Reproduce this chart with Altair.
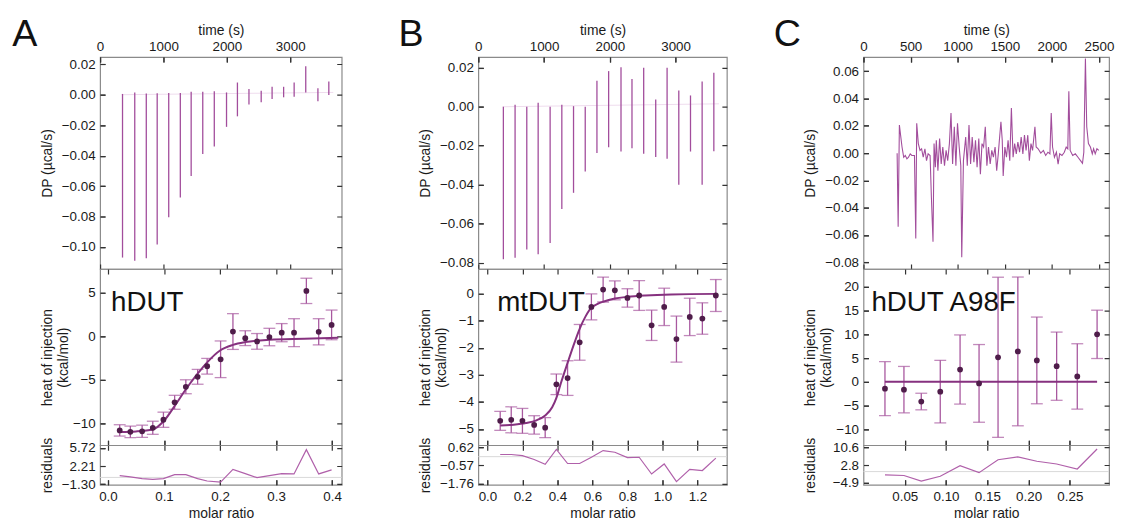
import altair as alt
import pandas as pd

FONT = "Liberation Sans"
PURPLE = "#a24d9c"
DOT = "#4f1d4a"
FIT = "#86317f"
ERR = "#a8589f"
RES = "#b060aa"
TICK = "#333333"

# ---------------- Panel A : hDUT ----------------
A_inj_t = [354, 547, 729, 901, 1083, 1266, 1437, 1620, 1802, 1995, 2167, 2349, 2542, 2714, 2896, 3062, 3245, 3437, 3609]
A_dp_min = [-0.1069, -0.109, -0.1073, -0.0983, -0.0804, -0.0675, -0.0534, -0.039, -0.034, -0.0211, -0.0142,
            -0.0065, -0.005, -0.0028, -0.0017, -0.0013, 0.0015, -0.0043, -0.0002]
A_dp_max = [0.0005, 0.0015, 0.0008, 0.001, 0.0012, 0.0012, 0.002, 0.002, 0.0022, 0.0015, 0.008,
            0.0037, 0.0026, 0.0052, 0.0052, 0.008, 0.0187, 0.0043, 0.0086]
A_base_t = [340, 3680]
A_base_dp = [0.0, 0.0015]
A_ratio = [0.021, 0.040, 0.061, 0.080, 0.099, 0.119, 0.139, 0.160, 0.177, 0.201, 0.223, 0.245, 0.266, 0.288,
           0.310, 0.332, 0.354, 0.376, 0.399]
A_heat = [-10.8, -10.97, -10.9, -10.5, -9.58, -7.58, -5.8, -4.66, -3.45, -2.65, 0.53, -0.23, -0.6, -0.1,
          0.4, 0.4, 5.19, 0.5, 1.29]
A_err = [0.65, 0.66, 0.7, 0.75, 0.87, 0.8, 0.8, 0.85, 0.9, 2.1, 2.05, 0.85, 0.9, 1.0, 1.04, 1.6, 1.45, 1.5, 1.7]
A_fit_x = [0.021, 0.05, 0.08, 0.10, 0.12, 0.14, 0.16, 0.177, 0.20, 0.223, 0.245, 0.288, 0.35, 0.411]
A_fit_y = [-10.98, -10.92, -10.7, -9.7, -7.9, -6.0, -4.3, -3.0, -1.64, -1.0, -0.68, -0.42, -0.3, -0.19]
A_resid = [0.35, 0.09, -0.24, -0.37, -0.24, 0.55, 0.55, -0.24, -0.7, -0.9, 1.55, 0.75, -0.05, 0.35, 0.75,
           0.68, 5.4, 0.68, 1.48]

# ---------------- Panel B : mtDUT ----------------
B_inj_t = [381, 559, 737, 910, 1092, 1270, 1448, 1626, 1804, 1982, 2170, 2337, 2515, 2698, 2871, 3049, 3227, 3404, 3582]
B_dp_min = [-0.0783, -0.0775, -0.0733, -0.0758, -0.07, -0.0525, -0.0442, -0.0333, -0.0237, -0.0208, -0.023,
            -0.0213, -0.0242, -0.0258, -0.0267, -0.04, -0.023, -0.04, -0.0228]
B_dp_max = [0.0, 0.001, 0.0, 0.002, 0.0, 0.001, 0.0003, 0.0, 0.0133, 0.0183, 0.0203, 0.0142, 0.02, 0.0037,
            0.02, 0.0083, 0.0058, 0.013, 0.0175]
B_base_t = [370, 3660]
B_base_dp = [0.0, 0.0015]
B_ratio = [0.073, 0.136, 0.200, 0.267, 0.330, 0.394, 0.458, 0.527, 0.594, 0.661, 0.728, 0.800, 0.867, 0.938,
           1.010, 1.080, 1.156, 1.228, 1.305]
B_heat = [-4.7, -4.66, -4.7, -4.85, -4.95, -3.35, -3.12, -1.8, -0.49, 0.15, 0.12, -0.16, -0.07, -1.17, -0.49,
          -1.68, -0.86, -0.92, -0.07]
B_err = [0.35, 0.48, 0.46, 0.34, 0.37, 0.38, 0.64, 0.66, 0.48, 0.46, 0.35, 0.34, 0.55, 0.56, 0.69, 0.85, 0.69,
         0.58, 0.59]
B_fit_x = [0.073, 0.15, 0.22, 0.28, 0.33, 0.37, 0.394, 0.42, 0.458, 0.49, 0.527, 0.56, 0.594, 0.63, 0.661,
           0.728, 0.8, 0.9, 1.05, 1.305]
B_fit_y = [-4.87, -4.84, -4.78, -4.68, -4.5, -4.2, -3.85, -3.3, -2.56, -1.95, -1.3, -0.85, -0.52, -0.38, -0.3,
           -0.18, -0.12, -0.07, -0.03, -0.01]
B_resid = [0.14, 0.14, 0.07, -0.19, -0.5, 0.47, -0.45, -0.45, -0.04, 0.4, 0.29, -0.06, -0.04, -1.14, -0.48,
           -1.64, -0.83, -0.91, -0.1]

# ---------------- Panel C : hDUT A98F ----------------
C_t = [357, 368, 381, 409, 427, 444, 461, 478, 496, 513, 541, 555, 565, 582, 600, 617, 634, 652, 669, 686,
       707, 721, 738, 749, 763, 773, 790, 808, 825, 842, 860, 877, 894, 912, 929, 946, 964, 981, 998, 1016,
       1033, 1043, 1061, 1085, 1102, 1120, 1137, 1154, 1172, 1189, 1206, 1224, 1241, 1258, 1275, 1293, 1310,
       1327, 1345, 1362, 1379, 1397, 1414, 1431, 1441, 1459, 1473, 1483, 1501, 1518, 1535, 1553, 1570, 1588,
       1605, 1622, 1639, 1657, 1674, 1692, 1709, 1726, 1744, 1761, 1778, 1795, 1820, 1833, 1854, 1882, 1910,
       1934, 1958, 1979, 1993, 2007, 2027, 2048, 2066, 2083, 2107, 2132, 2152, 2169, 2180, 2194, 2221, 2249,
       2277, 2304, 2325, 2339, 2356, 2370, 2388, 2409, 2429, 2443, 2460, 2478, 2498]
C_dp = [0.0, -0.054, 0.0206, 0.0045, -0.003, -0.0017, -0.0042, -0.003, -0.0005, -0.0017, -0.0017, -0.0627,
        0.0219, 0.007, 0.002, 0.0032, -0.003, 0.0032, -0.0055, -0.0005, -0.0017, -0.0328, -0.065, 0.007,
        -0.0104, 0.0095, -0.0129, 0.0107, -0.008, 0.0045, -0.0092, 0.002, -0.0055, 0.007, 0.0294, -0.008,
        0.0194, -0.0092, 0.0219, 0.0045, -0.0092, -0.0764, -0.0055, 0.0119, -0.0092, 0.0206, -0.008, 0.0119,
        -0.0067, 0.0095, -0.0104, 0.0107, -0.0154, 0.007, 0.0045, 0.0194, -0.0092, 0.0045, -0.008, 0.002,
        -0.003, 0.0045, -0.0129, -0.0005, 0.0082, 0.0231, 0.0095, -0.0167, 0.0045, -0.003, 0.0095, -0.0055,
        0.0331, -0.003, 0.007, -0.0005, 0.0082, 0.0007, 0.0119, -0.0005, 0.0132, 0.002, 0.0132, -0.0055,
        0.007, 0.002, 0.0194, 0.0045, 0.0032, 0.0, 0.002, -0.0017, 0.0007, -0.0005, 0.0294, 0.0045, -0.003,
        0.0007, -0.008, -0.0005, -0.0017, 0.0007, 0.0045, 0.0032, 0.0455, 0.002, -0.0017, -0.0005, -0.003,
        -0.0055, -0.0075, 0.0007, 0.0695, 0.0194, 0.007, 0.0045, -0.0005, 0.0032, -0.0005, 0.0032, 0.002]
C_ratio = [0.026, 0.049, 0.070, 0.093, 0.117, 0.140, 0.163, 0.187, 0.210, 0.234, 0.259, 0.283]
C_heat = [-1.46, -1.67, -4.18, -2.09, 2.58, -0.35, 5.16, 6.4, 4.5, 3.28, 1.12, 10.0]
C_err = [5.7, 4.9, 1.75, 6.6, 7.3, 8.2, 16.9, 15.7, 9.15, 7.2, 6.9, 5.1]
C_fit_x = [0.026, 0.283]
C_fit_y = [0.0, 0.0]
C_resid = [-1.45, -1.7, -4.1, -2.04, 2.6, -0.46, 5.13, 6.4, 4.5, 3.3, 1.12, 9.8]

W_A, W_B, W_C = 244, 251, 248
H_TOP, H_MID, H_RES = 214, 178, 40
TX = -46
COL_GAP = 138
TL = 5  # inward tick length

# inward ticks: the axis is pulled inside the frame by TL and its ticks point back to the frame
TICKS = dict(ticks=True, tickSize=TL, tickColor=TICK, tickWidth=1.2, tickOpacity=1, offset=-TL)
GRID = dict(grid=True, gridColor=TICK, gridWidth=1.2, gridOpacity=1)


def yaxis(title, values, fmt, W, H):
    return alt.Axis(title=title, values=values, format=fmt, titleX=TX - TL, titleY=H / 2,
                    titleBaseline="bottom", titleAngle=270, titleAlign="center",
                    gridDash=[TL, W - 2 * TL], **TICKS, **GRID)


def panels(W, letter, letter_dx, label, label_dx,
           t_dom, t_ticks, dp_dom, dp_ticks, thermo,
           r_dom, r_ticks, r_fmt, h_dom, h_ticks, res_dom, res_ticks, res_fmt,
           ratio, heat, err, fit_x, fit_y, resid):
    # ---- thermogram ----
    xT = alt.X("t:Q", scale=alt.Scale(domain=t_dom, nice=False, zero=False),
               axis=alt.Axis(orient="top", title="time (s)", values=t_ticks, format="d",
                             labelPadding=4, titlePadding=2,
                             gridDash=[TL, H_TOP - 2 * TL], **TICKS, **GRID))

    def yT(f):
        return alt.Y(f + ":Q", scale=alt.Scale(domain=dp_dom, nice=False, zero=False),
                     axis=yaxis("DP (µcal/s)", dp_ticks, ".2f", W, H_TOP))

    layers = []
    if thermo[0] == "rules":
        _, tt, lo, hi, bt, bdp = thermo
        base = pd.DataFrame({"t": bt, "lo": bdp})
        layers.append(alt.Chart(base).mark_line(color="#efdcee", strokeWidth=1).encode(x=xT, y=yT("lo")))
        spikes = pd.DataFrame({"t": tt, "lo": lo, "hi": hi})
        layers.append(alt.Chart(spikes).mark_rule(color=PURPLE, strokeWidth=1.3).encode(
            x=xT, y=yT("lo"), y2="hi:Q"))
    else:
        _, tt, dp = thermo
        trace = pd.DataFrame({"t": tt, "lo": dp})
        layers.append(alt.Chart(trace).mark_line(color=PURPLE, strokeWidth=1.1).encode(x=xT, y=yT("lo")))
    let = pd.DataFrame({"s": [letter]})
    layers.append(alt.Chart(let).mark_text(font=FONT, fontSize=38, align="center", baseline="alphabetic",
                                           color="#111").encode(
        x=alt.value(letter_dx), y=alt.value(-11), text="s:N"))
    top = alt.layer(*layers).properties(width=W, height=H_TOP)

    # ---- binding isotherm ----
    xM = alt.X("r:Q", scale=alt.Scale(domain=r_dom, nice=False, zero=False),
               axis=alt.Axis(title=None, labels=False, values=r_ticks,
                             gridDash=[TL, H_MID - 2 * TL], **TICKS, **GRID))

    def yM(f):
        return alt.Y(f + ":Q", scale=alt.Scale(domain=h_dom, nice=False, zero=False),
                     axis=yaxis(["heat of injection", "(kcal/mol)"], h_ticks, "d", W, H_MID))

    pts = pd.DataFrame({"r": ratio, "heat": heat, "err": err})
    pts["lo"] = pts["heat"] - pts["err"]
    pts["hi"] = pts["heat"] + pts["err"]
    fit = pd.DataFrame({"r": fit_x, "heat": fit_y})
    lab = pd.DataFrame({"s": [label]})
    mid = alt.layer(
        alt.Chart(pts).mark_errorbar(ticks=True, size=12, thickness=1.3, color=ERR).encode(
            x=xM, y=yM("lo"), y2="hi:Q"),
        alt.Chart(fit).mark_line(color=FIT, strokeWidth=2, interpolate="monotone").encode(x=xM, y=yM("heat")),
        alt.Chart(pts).mark_circle(size=34, color=DOT, opacity=1).encode(x=xM, y=yM("heat")),
        alt.Chart(lab).mark_text(font=FONT, fontSize=28, align="left", baseline="alphabetic",
                                 color="#111").encode(x=alt.value(label_dx), y=alt.value(42), text="s:N"),
    ).properties(width=W, height=H_MID)

    # ---- residuals ----
    xR = alt.X("r:Q", scale=alt.Scale(domain=r_dom, nice=False, zero=False),
               axis=alt.Axis(title="molar ratio", values=r_ticks, format=r_fmt, labelPadding=5,
                             titlePadding=4,
                             gridDash=[TL, H_RES - 2 * TL], **TICKS, **GRID))

    def yR(f):
        return alt.Y(f + ":Q", scale=alt.Scale(domain=res_dom, nice=False, zero=False),
                     axis=yaxis("residuals", res_ticks, res_fmt, W, H_RES))

    rd = pd.DataFrame({"r": ratio, "res": resid})
    zero = pd.DataFrame({"res": [0.0]})
    res = alt.layer(
        alt.Chart(zero).mark_rule(color="#d9d9d9", strokeWidth=1).encode(y=yR("res")),
        alt.Chart(rd).mark_line(color=RES, strokeWidth=1.2).encode(x=xR, y=yR("res")),
    ).properties(width=W, height=H_RES)

    return top, mid, res


tA, mA, rA = panels(W_A, "A", -76, "hDUT", 11,
                    [0, 3812], [0, 1000, 2000, 3000], [-0.1144, 0.0247],
                    [-0.10, -0.08, -0.06, -0.04, -0.02, 0.0, 0.02],
                    ("rules", A_inj_t, A_dp_min, A_dp_max, A_base_t, A_base_dp),
                    [-0.014, 0.417], [0.0, 0.1, 0.2, 0.3, 0.4], ".1f",
                    [-12.5, 7.7], [-10, -5, 0, 5], [-1.44, 6.26], [-1.30, 2.21, 5.72], ".2f",
                    A_ratio, A_heat, A_err, A_fit_x, A_fit_y, A_resid)

tB, mB, rB = panels(W_B, "B", -68, "mtDUT", 19,
                    [0, 3780], [0, 1000, 2000, 3000], [-0.0833, 0.0255],
                    [-0.08, -0.06, -0.04, -0.02, 0.0, 0.02],
                    ("rules", B_inj_t, B_dp_min, B_dp_max, B_base_t, B_base_dp),
                    [-0.052, 1.368], [0.0, 0.2, 0.4, 0.6, 0.8, 1.0, 1.2], ".1f",
                    [-5.6, 0.91], [-5, -4, -3, -2, -1, 0], [-1.85, 0.75], [-1.76, -0.57, 0.62], ".2f",
                    B_ratio, B_heat, B_err, B_fit_x, B_fit_y, B_resid)

tC, mC, rC = panels(W_C, "C", -77, "hDUT A98F", 8,
                    [0, 2607], [0, 500, 1000, 1500, 2000, 2500], [-0.085, 0.0705],
                    [-0.08, -0.06, -0.04, -0.02, 0.0, 0.02, 0.04, 0.06],
                    ("line", C_t, C_dp),
                    [0.0, 0.2975], [0.05, 0.10, 0.15, 0.20, 0.25], ".2f",
                    [-13.4, 23.8], [-10, -5, 0, 5, 10, 15, 20], [-5.76, 11.46], [-4.9, 2.8, 10.6], ".1f",
                    C_ratio, C_heat, C_err, C_fit_x, C_fit_y, C_resid)

chart = alt.concat(
    tA, tB, tC, mA, mB, mC, rA, rB, rC,
    columns=3, spacing={"row": 0, "column": COL_GAP}, bounds="flush", align="each"
).resolve_scale(
    x="independent", y="independent"
).properties(
    padding={"left": 3, "top": 5, "right": 0, "bottom": 0}
).configure_view(
    stroke="#8a8a8a", strokeWidth=1.2
).configure_axis(
    labelFont=FONT, titleFont=FONT, labelFontSize=13.5, titleFontSize=14,
    labelColor="#1a1a1a", titleColor="#1a1a1a", titleFontWeight="normal",
    domain=False, labelPadding=5, labelFlush=False, labelOverlap=False
)

chart.save("out.html", embed_options={"renderer": "svg", "actions": False})
